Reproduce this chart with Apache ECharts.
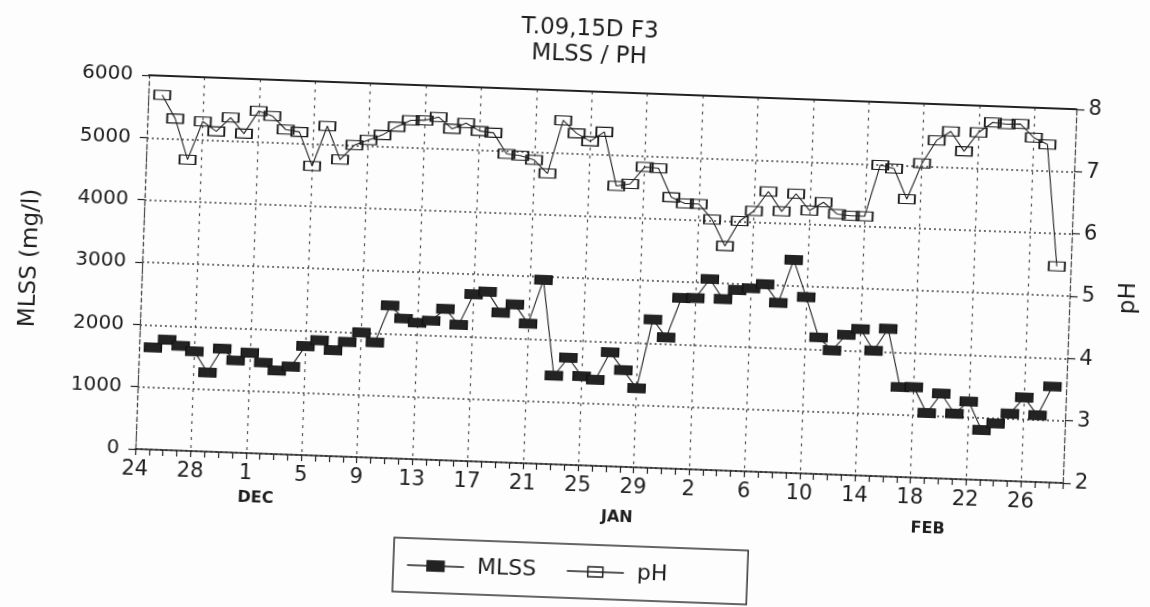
<!DOCTYPE html>
<html>
<head>
<meta charset="utf-8">
<script src="https://cdn.jsdelivr.net/npm/echarts@6/dist/echarts.min.js"></script>
<style>
  html, body { margin: 0; padding: 0; background: #fdfdfd; overflow: hidden; }
  #chart { width: 1150px; height: 607px; transform: rotate(2.1deg); transform-origin: 50% 50%; }
</style>
</head>
<body>
<div id="chart"></div>
<script>
// Bottom axis: one slot per day, slot 0 is the "24" tick; a label every 4th slot.
const slotCount = 68;
const tickLabels = ['24', '28', '1', '5', '9', '13', '17', '21', '25', '29', '2', '6', '10', '14', '18', '22', '26'];
const monthNames = ['DEC', 'JAN', 'FEB'];
const monthSlots = [8, 36, 56];

// Daily readings, slots 1..66
const mlss = [1640, 1770, 1680, 1600, 1270, 1660, 1480, 1610, 1460, 1340, 1410, 1750, 1850, 1700, 1840, 2000,
  1850, 2450, 2250, 2190, 2230, 2430, 2180, 2680, 2730, 2400, 2540, 2240, 2950, 1420, 1720, 1430, 1380,
  1830, 1550, 1270, 2380, 2100, 2740, 2750, 3060, 2750, 2900, 2940, 3010, 2720, 3420, 2830, 2190, 1990,
  2250, 2350, 2010, 2370, 1440, 1450, 1040, 1360, 1050, 1250, 800, 915, 1080, 1350, 1070, 1540];
const ph = [7.69, 7.32, 6.67, 7.29, 7.14, 7.37, 7.12, 7.49, 7.42, 7.21, 7.18, 6.64, 7.29, 6.76, 7.00, 7.09,
  7.18, 7.32, 7.43, 7.44, 7.50, 7.32, 7.42, 7.30, 7.28, 6.95, 6.93, 6.87, 6.66, 7.52, 7.32, 7.20, 7.36,
  6.50, 6.54, 6.82, 6.81, 6.35, 6.26, 6.26, 6.02, 5.60, 6.01, 6.18, 6.50, 6.19, 6.48, 6.22, 6.36, 6.18,
  6.16, 6.16, 6.99, 6.94, 6.46, 7.04, 7.42, 7.57, 7.26, 7.57, 7.74, 7.72, 7.73, 7.52, 7.42, 5.47];

const FONT = 'DejaVu Sans';
const INK = '#1e1e1e';

const slots = Array.from({ length: slotCount }, (_, i) => String(i));
const mlssData = mlss.map((v, i) => [i + 1, v]);
const phData = ph.map((v, i) => [i + 1, v]);

function dayLabel(value) {
  const i = Number(value);
  if (i % 4 !== 0) return '';
  let s = '{d|' + tickLabels[i / 4] + '}';
  const m = monthSlots.indexOf(i);
  if (m >= 0) s += '\n{m' + m + '|' + monthNames[m] + '}';
  return s;
}

const monthStyle = { fontFamily: FONT, fontSize: 16, fontWeight: 'bold', color: INK };

const chart = echarts.init(document.getElementById('chart'), null, { renderer: 'canvas' });
chart.setOption({
  animation: false,
  backgroundColor: 'transparent',
  graphic: [
    { type: 'text', x: 580, y: 29, style: { text: 'T.09,15D F3', fontFamily: FONT, fontSize: 23, fill: INK, align: 'center', verticalAlign: 'middle' } },
    { type: 'text', x: 580, y: 55, style: { text: 'MLSS / PH', fontFamily: FONT, fontSize: 23, fill: INK, align: 'center', verticalAlign: 'middle' } }
  ],
  grid: { left: 141, right: 81, top: 91, bottom: 142 },
  legend: {
    left: 403, top: 544,
    padding: [16, 80, 16, 13],
    itemGap: 30, itemWidth: 57, itemHeight: 10,
    borderColor: '#333', borderWidth: 1.5,
    textStyle: { fontFamily: FONT, fontSize: 22, color: INK, padding: [0, 0, 0, 8] },
    data: [
      { name: 'MLSS', icon: 'path://M0,5L20,5M37,5L57,5M20,0L37,0L37,10L20,10Z',
        itemStyle: { color: '#222', borderColor: '#222', borderWidth: 1.5 } },
      { name: 'pH', icon: 'path://M0,5L57,5M21,0L36,0L36,10L21,10Z',
        itemStyle: { color: 'rgba(255,255,255,0)', borderColor: '#222', borderWidth: 1.5 } }
    ]
  },
  xAxis: [
    {
      type: 'category', data: slots, boundaryGap: false, position: 'bottom',
      axisLine: { lineStyle: { color: '#222', width: 1.6 } },
      axisTick: { show: true, interval: 0, length: 6, lineStyle: { color: '#222', width: 1.2 } },
      axisLabel: {
        interval: 0, margin: 10, formatter: dayLabel,
        rich: {
          d: { fontFamily: FONT, fontSize: 21, color: INK, lineHeight: 22 },
          m0: Object.assign({ lineHeight: 26, padding: [0, 0, 0, 22] }, monthStyle),
          m1: Object.assign({ lineHeight: 38, padding: [0, 30, 0, 0] }, monthStyle),
          m2: Object.assign({ lineHeight: 38, padding: [0, 0, 0, 38] }, monthStyle)
        }
      },
      splitLine: { show: true, interval: 3, lineStyle: { type: [3, 5], color: '#555', width: 1.2 } }
    },
    {
      type: 'category', data: slots, boundaryGap: false, position: 'top',
      axisLine: { lineStyle: { color: '#222', width: 1.8 } },
      axisTick: { show: false }, axisLabel: { show: false }, splitLine: { show: false }
    }
  ],
  yAxis: [
    {
      type: 'value', min: 0, max: 6000, interval: 1000, position: 'left',
      name: 'MLSS (mg/l)', nameLocation: 'middle', nameGap: 100, nameRotate: 90,
      nameTextStyle: { fontFamily: FONT, fontSize: 23, color: INK },
      axisLine: { show: true, lineStyle: { type: [4, 3], color: '#444', width: 1.2 } },
      axisTick: { show: true, length: 7, lineStyle: { color: '#222', width: 1.2 } },
      axisLabel: { margin: 16, fontFamily: FONT, fontSize: 20, color: INK, formatter: v => String(v) },
      splitLine: { show: true, lineStyle: { type: [2, 3], color: '#444', width: 1.5 } }
    },
    {
      type: 'value', min: 2, max: 8, interval: 1, position: 'right',
      name: 'pH', nameLocation: 'middle', nameGap: 48, nameRotate: 90,
      nameTextStyle: { fontFamily: FONT, fontSize: 23, color: INK },
      axisLine: { show: true, lineStyle: { type: [4, 4], color: '#444', width: 1.2 } },
      axisTick: { show: true, length: 8, lineStyle: { color: '#222', width: 1.2 } },
      axisLabel: { margin: 12, fontFamily: FONT, fontSize: 21, color: INK },
      splitLine: { show: false }
    }
  ],
  series: [
    {
      name: 'MLSS', type: 'line', xAxisIndex: 0, yAxisIndex: 0, data: mlssData,
      symbol: 'rect', symbolSize: [17, 9], showAllSymbol: true,
      itemStyle: { color: '#232323', borderColor: '#111', borderWidth: 1 },
      lineStyle: { color: '#222', width: 1.1 },
      emphasis: { disabled: true }, z: 3
    },
    {
      name: 'pH', type: 'line', xAxisIndex: 0, yAxisIndex: 1, data: phData,
      symbol: 'rect', symbolSize: [16, 9], showAllSymbol: true,
      itemStyle: { color: 'rgba(255,255,255,0)', borderColor: '#1a1a1a', borderWidth: 1.4 },
      lineStyle: { color: '#222', width: 1.1 },
      emphasis: { disabled: true }, z: 3
    }
  ]
});
</script>
</body>
</html>
